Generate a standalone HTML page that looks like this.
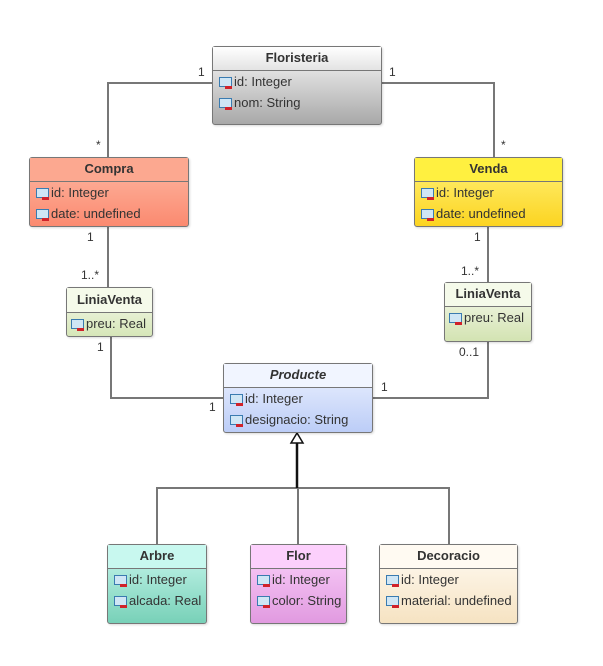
<!DOCTYPE html>
<html><head><meta charset="utf-8"><style>
body{margin:0;width:603px;height:666px;background:#fff;position:relative;overflow:hidden;font-family:"Liberation Sans",Arial,sans-serif;font-size:13px;color:#333}
.c{position:absolute;border:1px solid #777;border-radius:3px;box-sizing:border-box;box-shadow:1px 1px 2px rgba(0,0,0,.15)}
.h{font-weight:bold;text-align:center;border-bottom:1px solid #777;box-sizing:border-box;line-height:22px;height:24px;color:#333;font-size:13px}
.a{height:21px;line-height:21px;padding-left:6px;white-space:nowrap;color:#333;font-size:13px}
.i{display:inline-block;width:13px;height:10px;border:1px solid #3a7bb0;background:#cfe6f5;box-sizing:border-box;vertical-align:-1px;margin-right:2px;position:relative}
.i:after{content:"";position:absolute;left:5px;top:8px;width:7px;height:3px;background:#d0222a}
.l{position:absolute;font-size:12px;color:#333}
</style></head><body>
<svg width="603" height="666" style="position:absolute;left:0;top:0">
<g stroke="#777" stroke-width="2" fill="none">
<polyline points="212,83 108,83 108,157"/>
<polyline points="382,83 494,83 494,157"/>
<line x1="108" y1="226" x2="108" y2="287"/>
<line x1="488" y1="226" x2="488" y2="282"/>
<polyline points="111,336 111,398 223,398"/>
<polyline points="488,341 488,398 372,398"/>
<polyline points="157,544 157,488 449,488 449,544"/>
<line x1="298" y1="488" x2="298" y2="544"/>
</g>
<line x1="297" y1="443" x2="297" y2="488" stroke="#111" stroke-width="2.5"/>
<polygon points="297,433 291,443 303,443" fill="#fff" stroke="#111" stroke-width="1.5"/>
</svg>

<div class="c" style="left:212px;top:46px;width:170px;height:79px;background:linear-gradient(#fafafa,#a8a8a8)">
<div class="h" style="background:linear-gradient(#fff,#e3e3e3)">Floristeria</div>
<div class="a"><span class="i"></span>id: Integer</div><div class="a"><span class="i"></span>nom: String</div></div>

<div class="c" style="left:29px;top:157px;width:160px;height:70px;background:linear-gradient(#fdb9a4,#fb8a70)">
<div class="h" style="background:#fca890">Compra</div>
<div class="a"><span class="i"></span>id: Integer</div><div class="a"><span class="i"></span>date: undefined</div></div>

<div class="c" style="left:414px;top:157px;width:149px;height:70px;background:linear-gradient(#fff37a,#fcd421)">
<div class="h" style="background:#fff040">Venda</div>
<div class="a"><span class="i"></span>id: Integer</div><div class="a"><span class="i"></span>date: undefined</div></div>

<div class="c" style="left:66px;top:287px;width:87px;height:50px;background:linear-gradient(#f8fbf0,#d6e6b8)">
<div class="h" style="background:#f5faea;height:25px;line-height:23px">LiniaVenta</div>
<div class="a" style="padding-left:4px"><span class="i"></span>preu: Real</div></div>

<div class="c" style="left:444px;top:282px;width:88px;height:60px;background:linear-gradient(#f8fbf0,#d3e3b2)">
<div class="h" style="background:#f5faea">LiniaVenta</div>
<div class="a" style="padding-left:4px"><span class="i"></span>preu: Real</div></div>

<div class="c" style="left:223px;top:363px;width:150px;height:70px;background:linear-gradient(#eef3ff,#bccdf7)">
<div class="h" style="background:#f1f5ff;font-style:italic">Producte</div>
<div class="a"><span class="i"></span>id: Integer</div><div class="a"><span class="i"></span>designacio: String</div></div>

<div class="c" style="left:107px;top:544px;width:100px;height:80px;background:linear-gradient(#c9f7ee,#78d1b8)">
<div class="h" style="background:#c8f8ef">Arbre</div>
<div class="a"><span class="i"></span>id: Integer</div><div class="a"><span class="i"></span>alcada: Real</div></div>

<div class="c" style="left:250px;top:544px;width:97px;height:80px;background:linear-gradient(#fbd2fb,#e19ae0)">
<div class="h" style="background:#fcd0fc">Flor</div>
<div class="a"><span class="i"></span>id: Integer</div><div class="a"><span class="i"></span>color: String</div></div>

<div class="c" style="left:379px;top:544px;width:139px;height:80px;background:linear-gradient(#fffbf4,#f6e3c2)">
<div class="h" style="background:#fffaf2">Decoracio</div>
<div class="a"><span class="i"></span>id: Integer</div><div class="a"><span class="i"></span>material: undefined</div></div>

<div class="l" style="left:198px;top:65px">1</div>
<div class="l" style="left:389px;top:65px">1</div>
<div class="l" style="left:96px;top:138px">*</div>
<div class="l" style="left:501px;top:138px">*</div>
<div class="l" style="left:87px;top:230px">1</div>
<div class="l" style="left:81px;top:268px">1..*</div>
<div class="l" style="left:97px;top:340px">1</div>
<div class="l" style="left:474px;top:230px">1</div>
<div class="l" style="left:461px;top:264px">1..*</div>
<div class="l" style="left:459px;top:345px">0..1</div>
<div class="l" style="left:209px;top:400px">1</div>
<div class="l" style="left:381px;top:380px">1</div>
</body></html>
